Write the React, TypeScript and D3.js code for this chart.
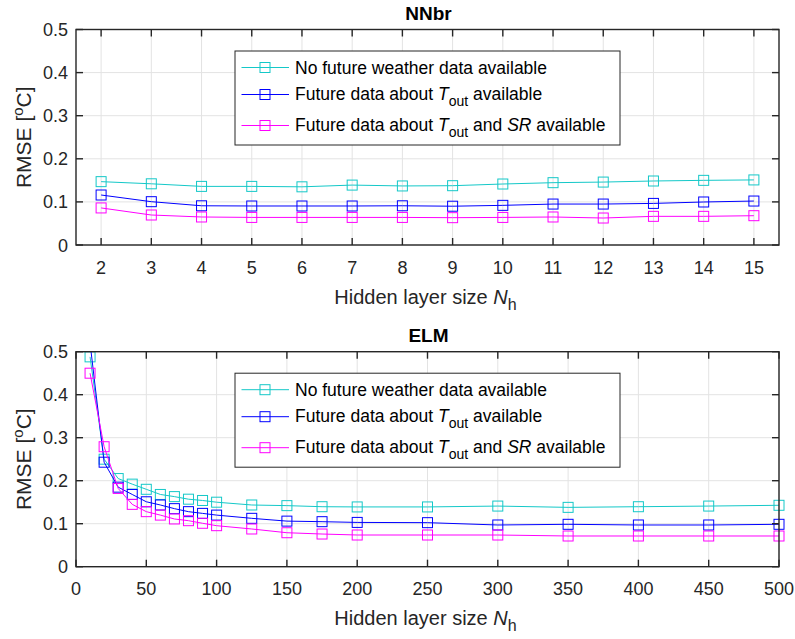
import React from 'react';
import * as d3 from 'd3';

// ---- data ----
const nnbrSizes = [2, 3, 4, 5, 6, 7, 8, 9, 10, 11, 12, 13, 14, 15];
const nnbrNoFuture = [0.147, 0.142, 0.136, 0.136, 0.135, 0.139, 0.137, 0.1376, 0.1415, 0.1446, 0.146, 0.1485, 0.150, 0.151];
const nnbrTout = [0.116, 0.1005, 0.091, 0.0905, 0.0905, 0.0905, 0.091, 0.090, 0.092, 0.095, 0.095, 0.0965, 0.0998, 0.102];
const nnbrToutSR = [0.086, 0.0696, 0.065, 0.064, 0.064, 0.064, 0.064, 0.0634, 0.064, 0.065, 0.0626, 0.0665, 0.0665, 0.068];

const elmSizes = [10, 20, 30, 40, 50, 60, 70, 80, 90, 100, 125, 150, 175, 200, 250, 300, 350, 400, 450, 500];
const elmNoFuture = [0.488, 0.25, 0.205, 0.192, 0.18, 0.168, 0.163, 0.157, 0.154, 0.150, 0.1435, 0.142, 0.1395, 0.139, 0.139, 0.141, 0.138, 0.1395, 0.141, 0.1428];
const elmTout = [0.52, 0.243, 0.185, 0.168, 0.151, 0.1435, 0.135, 0.128, 0.124, 0.120, 0.1125, 0.106, 0.1047, 0.103, 0.1024, 0.097, 0.0986, 0.097, 0.097, 0.0986];
const elmToutSR = [0.45, 0.279, 0.182, 0.145, 0.128, 0.120, 0.111, 0.107, 0.101, 0.0954, 0.0877, 0.079, 0.076, 0.0737, 0.0737, 0.0737, 0.0714, 0.0714, 0.0714, 0.0714];

const nnbrXTicks = [2, 3, 4, 5, 6, 7, 8, 9, 10, 11, 12, 13, 14, 15];
const elmXTicks = [0, 50, 100, 150, 200, 250, 300, 350, 400, 450, 500];
const yTicks = [0, 0.1, 0.2, 0.3, 0.4, 0.5];

const seriesColors = ['#14C8C8', '#0000FF', '#FF00FF'];

const FONT = "'Liberation Sans', Arial, Helvetica, sans-serif";
const AX = '#262626';

type PanelProps = {
  id: string;
  title: string;
  top: number;
  bottom: number;
  xDomain: [number, number];
  xTicks: number[];
  xs: number[];
  series: number[][];
};

const LEFT = 76;
const RIGHT = 779;
const YMAX = 0.5;

function Panel({ id, title, top, bottom, xDomain, xTicks, xs, series }: PanelProps) {
  const x = d3.scaleLinear().domain(xDomain).range([LEFT, RIGHT]);
  const y = d3.scaleLinear().domain([0, YMAX]).range([bottom, top]);
  const tl = 7;
  const ms = 10;
  const line = d3
    .line<number>()
    .x((_, i) => x(xs[i]))
    .y((d) => y(d));

  const legX = 235;
  const legY = top + 21.5;
  const legW = 385;
  const legH = 94;
  const rows = [16.5, 43.5, 74.5];
  const lfs = 17.5;

  return (
    <g>
      <defs>
        <clipPath id={`clip-${id}`}>
          <rect x={LEFT} y={top} width={RIGHT - LEFT} height={bottom - top} />
        </clipPath>
      </defs>
      <rect x={LEFT} y={top} width={RIGHT - LEFT} height={bottom - top} fill="#fff" />
      {/* grid */}
      {xTicks.map((t) => (
        <line key={'gx' + t} x1={x(t)} x2={x(t)} y1={top} y2={bottom} stroke="#e3e3e3" strokeWidth={1} />
      ))}
      {yTicks.map((t) => (
        <line key={'gy' + t} x1={LEFT} x2={RIGHT} y1={y(t)} y2={y(t)} stroke="#e3e3e3" strokeWidth={1} />
      ))}
      {/* data */}
      {series.map((s, si) => (
        <g key={'s' + si}>
          <path d={line(s) || ''} fill="none" stroke={seriesColors[si]} strokeWidth={1} clipPath={`url(#clip-${id})`} />
          {s.map((v, i) =>
            v <= YMAX ? (
              <rect
                key={i}
                x={x(xs[i]) - ms / 2}
                y={y(v) - ms / 2}
                width={ms}
                height={ms}
                fill="none"
                stroke={seriesColors[si]}
                strokeWidth={1}
              />
            ) : null
          )}
        </g>
      ))}
      {/* box */}
      <rect x={LEFT} y={top} width={RIGHT - LEFT} height={bottom - top} fill="none" stroke={AX} strokeWidth={1.4} />
      {/* ticks */}
      {xTicks.map((t) => (
        <g key={'tx' + t}>
          <line x1={x(t)} x2={x(t)} y1={bottom} y2={bottom - tl} stroke={AX} strokeWidth={1.4} />
          <line x1={x(t)} x2={x(t)} y1={top} y2={top + tl} stroke={AX} strokeWidth={1.4} />
          <text x={x(t)} y={bottom + 28.5} textAnchor="middle" fontSize={18} fill={AX} fontFamily={FONT}>
            {t}
          </text>
        </g>
      ))}
      {yTicks.map((t) => (
        <g key={'ty' + t}>
          <line x1={LEFT} x2={LEFT + tl} y1={y(t)} y2={y(t)} stroke={AX} strokeWidth={1.4} />
          <line x1={RIGHT} x2={RIGHT - tl} y1={y(t)} y2={y(t)} stroke={AX} strokeWidth={1.4} />
          <text x={LEFT - 8} y={y(t) + 6.5} textAnchor="end" fontSize={18} fill={AX} fontFamily={FONT}>
            {d3.format('~g')(t)}
          </text>
        </g>
      ))}
      {/* title */}
      <text x={(LEFT + RIGHT) / 2 + 1} y={top - 9.5} textAnchor="middle" fontSize={19} fontWeight="bold" fill="#000" fontFamily={FONT}>
        {title}
      </text>
      {/* x label */}
      <text x={(LEFT + RIGHT) / 2 - 2} y={bottom + 58.5} textAnchor="middle" fontSize={20} fill={AX} fontFamily={FONT}>
        Hidden layer size <tspan fontStyle="italic">N</tspan>
        <tspan fontSize={16} dy={6}>h</tspan>
      </text>
      {/* y label */}
      <text
        transform={`translate(31,${(top + bottom) / 2}) rotate(-90)`}
        textAnchor="middle"
        fontSize={21}
        fill={AX}
        fontFamily={FONT}
      >
        RMSE [<tspan fontSize={15} dy={-8}>o</tspan>
        <tspan dy={8}>C]</tspan>
      </text>
      {/* legend */}
      <rect x={legX} y={legY} width={legW} height={legH} fill="#fff" stroke={AX} strokeWidth={1} />
      {rows.map((r, i) => (
        <g key={'l' + i}>
          <line x1={legX + 6.5} x2={legX + 54} y1={legY + r} y2={legY + r} stroke={seriesColors[i]} strokeWidth={1} />
          <rect x={legX + 30 - ms / 2} y={legY + r - ms / 2} width={ms} height={ms} fill="none" stroke={seriesColors[i]} strokeWidth={1} />
        </g>
      ))}
      <text x={legX + 60} y={legY + 22.5} fontSize={lfs} fill="#000" fontFamily={FONT}>
        No future weather data available
      </text>
      <text x={legX + 60} y={legY + 49} fontSize={lfs} fill="#000" fontFamily={FONT}>
        Future data about <tspan fontStyle="italic">T</tspan>
        <tspan fontSize={14} dy={6}>out</tspan>
        <tspan dy={-6}> available</tspan>
      </text>
      <text x={legX + 60} y={legY + 80} fontSize={lfs} fill="#000" fontFamily={FONT}>
        Future data about <tspan fontStyle="italic">T</tspan>
        <tspan fontSize={14} dy={6}>out</tspan>
        <tspan dy={-6}> and </tspan>
        <tspan fontStyle="italic">SR</tspan>
        <tspan> available</tspan>
      </text>
    </g>
  );
}

export default function App() {
  return (
    <svg
      width={795}
      height={639}
      style={{ position: 'absolute', left: 0, top: 0, background: '#fff' }}
      xmlns="http://www.w3.org/2000/svg"
    >
      <rect x={0} y={0} width={795} height={639} fill="#fff" />
      <Panel
        id="nnbr"
        title="NNbr"
        top={29.5}
        bottom={245}
        xDomain={[1.5, 15.5]}
        xTicks={nnbrXTicks}
        xs={nnbrSizes}
        series={[nnbrNoFuture, nnbrTout, nnbrToutSR]}
      />
      <Panel
        id="elm"
        title="ELM"
        top={351.7}
        bottom={566.7}
        xDomain={[0, 500]}
        xTicks={elmXTicks}
        xs={elmSizes}
        series={[elmNoFuture, elmTout, elmToutSR]}
      />
    </svg>
  );
}
